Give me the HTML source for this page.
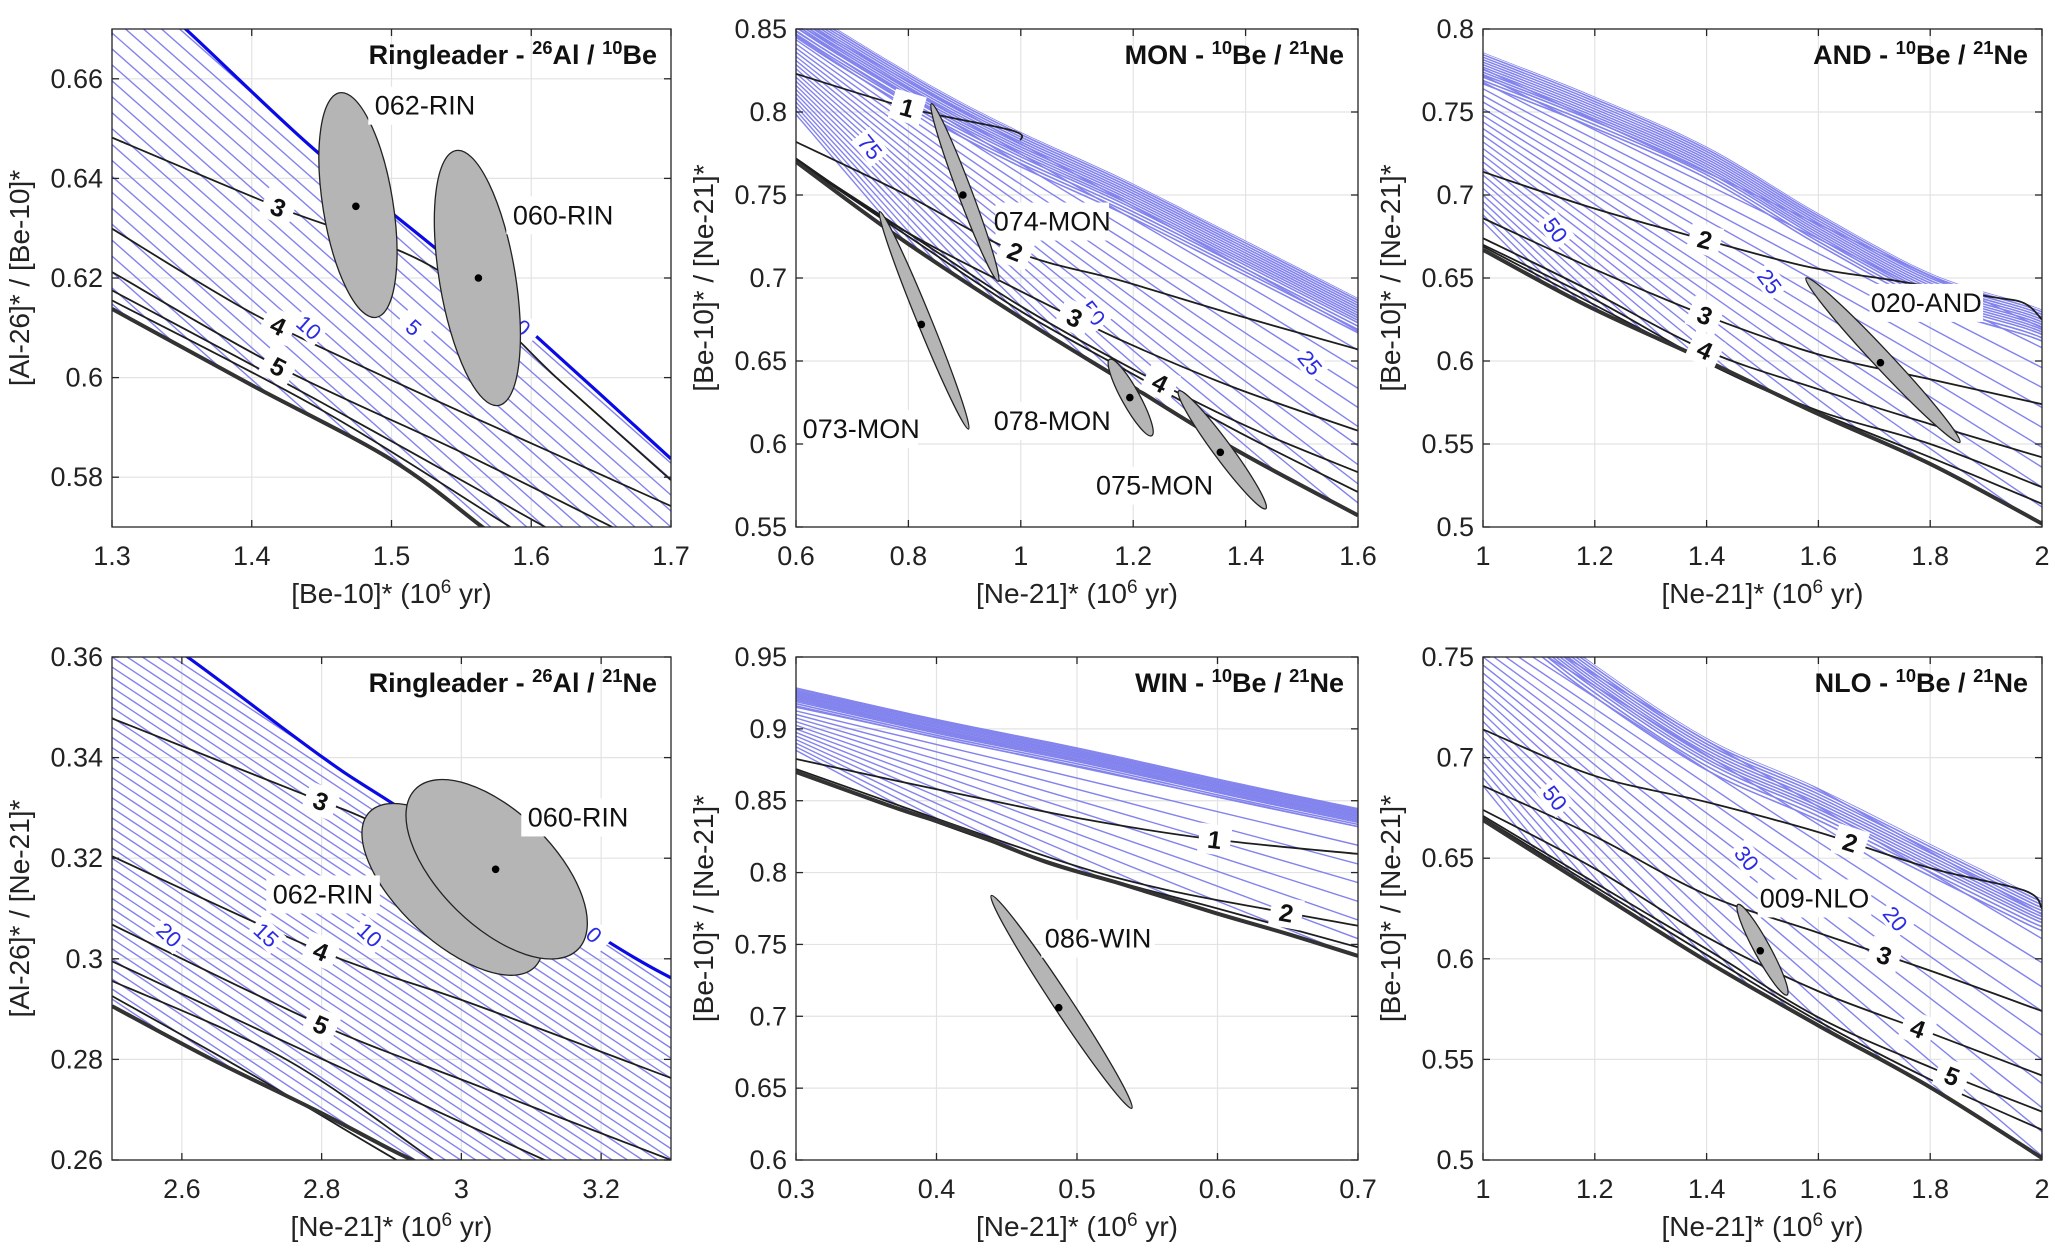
<!DOCTYPE html>
<html><head><meta charset="utf-8"><title>Cosmogenic nuclide ratio plots</title>
<style>
html,body{margin:0;padding:0;background:#fff;width:2067px;height:1260px;overflow:hidden;}
svg{display:block;font-family:"Liberation Sans",Arial,sans-serif;overflow:hidden;}
</style></head>
<body>
<svg id="fig" width="2067" height="1260" viewBox="0 0 2067 1260" xmlns="http://www.w3.org/2000/svg">
<rect x="0" y="0" width="2067" height="1260" fill="#fff"/>
<defs id="defs"></defs>
</svg>
<script>
// ---------- Panel 1: Ringleader 26Al/10Be ----------
const p1_xTicks=[1.3,1.4,1.5,1.6,1.7];
const p1_yTicks=[0.58,0.6,0.62,0.64,0.66];
const p1_bold=[[1.3,0.683],[1.353,0.6699],[1.444,0.646],[1.54,0.624],[1.604,0.6082],[1.7,0.5837]];
const p1_thick=[[1.3,0.6138],[1.4,0.5985],[1.5,0.5835],[1.565,0.570],[1.6,0.5625]];
const p1_c3=[[1.3,0.6482],[1.419,0.6342],[1.533,0.6216],[1.62,0.5995],[1.7,0.5794]];
const p1_c4=[[1.3,0.6299],[1.4,0.613],[1.5,0.5995],[1.6,0.5868],[1.7,0.5742]];
const p1_c5=[[1.3,0.6212],[1.419,0.6022],[1.55,0.585],[1.658,0.570],[1.7,0.5645]];
const p1_c6=[[1.3,0.6175],[1.45,0.595],[1.61,0.570],[1.65,0.564]];
const p1_c7=[[1.3,0.6155],[1.45,0.5935],[1.585,0.570],[1.62,0.564]];
const p1_diagL=[0.682,0.6788,0.6756,0.6724,0.6692,0.666,0.6628,0.6596,0.6564,0.6532,0.65,0.6468,0.6436,0.6404,0.6372,0.634,0.6308,0.6276,0.6244,0.6212,0.618,0.6148];
const p1_diagSlope=[0.248];
const p1_blueLabels=[['10',1.441,0.6101],['5',1.516,0.6101],['0',1.594,0.6101]];
const p1_sampleNames=['062-RIN','060-RIN'];
const p1_sampleCenters=[[1.4745,0.6344],[1.5622,0.62]];
const p1_sampleTipA=[[1.463,0.6572],[1.5463,0.6456]];
const p1_sampleTipB=[[1.489,0.6121],[1.5766,0.5944]];
const p1_sampleWidth=[35,38];
const p1_sampleLabelPos=[[1.524,0.6546],[1.6228,0.6326]];

// ---------- Panel 2: MON 10Be/21Ne ----------
const p2_xTicks=[0.6,0.8,1,1.2,1.4,1.6];
const p2_yTicks=[0.55,0.6,0.65,0.7,0.75,0.8,0.85];
const p2_env=[[0.6,0.866],[0.673,0.85],[0.851,0.814],[1.0,0.788],[1.181,0.760],[1.38,0.726],[1.6,0.688]];
const p2_thick=[[0.6,0.770],[0.785,0.724],[1.0,0.676],[1.182,0.638],[1.38,0.597],[1.6,0.557]];
const p2_c1=[[0.6,0.823],[0.805,0.802],[0.983,0.789],[1.0,0.783]];
const p2_c2=[[0.6,0.782],[0.785,0.752],[0.99,0.716],[1.182,0.698],[1.38,0.678],[1.6,0.657]];
const p2_c3=[[0.6,0.772],[0.785,0.730],[1.0,0.692],[1.182,0.662],[1.38,0.634],[1.6,0.608]];
const p2_c4=[[0.6,0.771],[0.8,0.727],[1.0,0.683],[1.2,0.645],[1.4,0.611],[1.6,0.583]];
const p2_c5=[[0.6,0.7705],[0.8,0.725],[1.0,0.68],[1.2,0.642],[1.4,0.605],[1.6,0.571]];
const p2_band=[0,0.0015,0.003,0.0045,0.006,0.0075,0.009,0.0105,0.012,0.0135,0.015,0.017,0.019,0.021];
const p2_diagL=[0.856,0.8535,0.851,0.8485,0.846,0.8435,0.841,0.8385,0.836,0.8335,0.831,0.8285,0.826,0.8235,0.821,0.8185,0.816,0.8135,0.811,0.8085,0.806,0.8035,0.801,0.7985];
const p2_diagR=[0.668,0.6565,0.645,0.6335,0.622,0.6105,0.599,0.5875,0.576,0.5645,0.553,0.5415,0.530,0.5185,0.507,0.4955,0.484,0.4725,0.461,0.4495,0.438,0.4265,0.415,0.4035];
const p2_blueLabels=[['75',0.732,0.779],['50',1.129,0.679],['25',1.515,0.649]];
const p2_sampleNames=['074-MON','073-MON','078-MON','075-MON'];
const p2_sampleCenters=[[0.897,0.750],[0.823,0.672],[1.194,0.628],[1.355,0.595]];
const p2_sampleTipA=[[0.841,0.805],[0.749,0.74],[1.158,0.651],[1.281,0.632]];
const p2_sampleTipB=[[0.96,0.698],[0.907,0.609],[1.233,0.605],[1.436,0.561]];
const p2_sampleWidth=[7,7,9,9];
const p2_sampleLabelPos=[[1.056,0.734],[0.716,0.609],[1.056,0.614],[1.238,0.575]];

// ---------- Panel 3: AND 10Be/21Ne ----------
const p3_xTicks=[1,1.2,1.4,1.6,1.8,2];
const p3_yTicks=[0.5,0.55,0.6,0.65,0.7,0.75,0.8];
const p3_env=[[1,0.786],[1.188,0.761],[1.401,0.729],[1.6,0.689],[1.8,0.653],[1.967,0.635],[2,0.631]];
const p3_thick=[[1,0.667],[1.188,0.633],[1.401,0.6],[1.6,0.568],[1.8,0.538],[2,0.502]];
const p3_c2=[[1,0.714],[1.188,0.693],[1.376,0.675],[1.578,0.657],[1.727,0.649],[1.902,0.639],[1.967,0.635],[2,0.625]];
const p3_c3=[[1,0.686],[1.188,0.657],[1.401,0.627],[1.6,0.604],[1.8,0.589],[2,0.574]];
const p3_c4=[[1,0.674],[1.188,0.643],[1.401,0.606],[1.6,0.583],[1.8,0.562],[2,0.542]];
const p3_c5=[[1,0.670],[1.2,0.637],[1.409,0.598],[1.6,0.57],[1.8,0.55],[2,0.524]];
const p3_c6=[[1,0.669],[1.4,0.599],[1.6,0.569],[1.8,0.542],[2,0.514]];
const p3_band=[0,0.0015,0.003,0.0045,0.006,0.0075,0.009,0.0105,0.012,0.0135,0.015,0.017,0.019];
const p3_diagL=[0.776,0.772,0.768,0.764,0.76,0.756,0.752,0.748,0.744,0.74,0.736,0.732,0.728,0.724,0.72,0.716,0.712,0.708,0.704,0.70,0.696,0.692,0.688,0.684];
const p3_diagR=[0.62,0.608,0.596,0.584,0.572,0.56,0.548,0.536,0.524,0.512,0.50,0.488,0.476,0.464,0.452,0.44,0.428,0.416,0.404,0.392,0.38,0.368,0.356,0.344];
const p3_blueLabels=[['50',1.13,0.679],['25',1.513,0.648]];
const p3_sampleNames=['020-AND'];
const p3_sampleCenters=[[1.711,0.599]];
const p3_sampleTipA=[[1.578,0.650]];
const p3_sampleTipB=[[1.853,0.551]];
const p3_sampleWidth=[9];
const p3_sampleLabelPos=[[1.793,0.635]];

// ---------- Panel 4: Ringleader 26Al/21Ne ----------
const p4_xTicks=[2.6,2.8,3,3.2];
const p4_yTicks=[0.26,0.28,0.3,0.32,0.34,0.36];
const p4_bold=[[2.5,0.37],[2.608,0.36],[2.802,0.34],[2.907,0.3304],[3.209,0.3035],[3.3,0.2962]];
const p4_thick=[[2.5,0.2906],[2.643,0.28],[2.79,0.27],[2.9,0.262],[2.93,0.26],[2.97,0.257]];
const p4_c3=[[2.5,0.3478],[2.78,0.3324],[2.854,0.3284],[3.0,0.319]];
const p4_c4=[[2.5,0.3204],[2.799,0.3015],[3.013,0.2912],[3.3,0.2763]];
const p4_c5=[[2.5,0.3068],[2.799,0.2869],[3.013,0.2753],[3.3,0.26]];
const p4_c6=[[2.5,0.2995],[2.802,0.28],[3.119,0.26],[3.16,0.257]];
const p4_c7=[[2.5,0.2956],[2.749,0.28],[2.96,0.26],[3.0,0.257]];
const p4_c8=[[2.5,0.2926],[2.7,0.277],[2.907,0.26],[2.95,0.257]];
const p4_diagL=[0.370,0.368,0.366,0.364,0.362,0.360,0.358,0.356,0.354,0.352,0.350,0.348,0.346,0.344,0.342,0.340,0.338,0.336,0.334,0.332,0.330,0.328,0.326,0.324,0.322,0.320,0.318,0.316,0.314,0.312,0.310,0.308,0.306,0.304,0.302,0.300,0.298,0.296,0.294,0.292,0.290];
const p4_diagSlope=[0.0922];
const p4_blueLabels=[['20',2.582,0.3048],['15',2.721,0.3048],['10',2.869,0.3048],['0',3.19,0.3048]];
const p4_sampleNames=['062-RIN','060-RIN'];
const p4_sampleCenters=[[2.986,0.3133],[3.049,0.3178]];
const p4_sampleTipA=[[2.868,0.3291],[2.934,0.3337]];
const p4_sampleTipB=[[3.106,0.2985],[3.167,0.3019]];
const p4_sampleWidth=[52,57];
const p4_sampleLabelPos=[[2.802,0.3128],[3.167,0.3281]];

// ---------- Panel 5: WIN 10Be/21Ne ----------
const p5_xTicks=[0.3,0.4,0.5,0.6,0.7];
const p5_yTicks=[0.6,0.65,0.7,0.75,0.8,0.85,0.9,0.95];
const p5_env=[[0.3,0.929],[0.4,0.907],[0.506,0.886],[0.612,0.863],[0.7,0.845]];
const p5_thick=[[0.3,0.870],[0.334,0.858],[0.374,0.844],[0.421,0.829],[0.479,0.807],[0.532,0.792],[0.598,0.772],[0.651,0.757],[0.7,0.742]];
const p5_c1=[[0.3,0.879],[0.4,0.858],[0.506,0.837],[0.598,0.823],[0.7,0.813]];
const p5_c2=[[0.3,0.872],[0.479,0.811],[0.559,0.789],[0.638,0.774],[0.7,0.763]];
const p5_c3=[[0.3,0.8705],[0.479,0.808],[0.6,0.775],[0.7,0.748]];
const p5_band=[0,0.001,0.002,0.003,0.004,0.005,0.006,0.007,0.008,0.009,0.010,0.0115,0.013];
const p5_diagL=[0.915,0.9125,0.91,0.9075,0.905,0.9025,0.90,0.8975,0.895,0.8925,0.89,0.8875,0.885];
const p5_diagR=[0.832,0.819,0.806,0.793,0.78,0.767,0.754,0.741,0.728,0.715,0.702,0.689,0.676];
const p5_blueLabels=[];
const p5_sampleNames=['086-WIN'];
const p5_sampleCenters=[[0.487,0.706]];
const p5_sampleTipA=[[0.439,0.784]];
const p5_sampleTipB=[[0.539,0.636]];
const p5_sampleWidth=[9];
const p5_sampleLabelPos=[[0.515,0.754]];

// ---------- Panel 6: NLO 10Be/21Ne ----------
const p6_xTicks=[1,1.2,1.4,1.6,1.8,2];
const p6_yTicks=[0.5,0.55,0.6,0.65,0.7,0.75];
const p6_env=[[1,0.79],[1.181,0.75],[1.399,0.71],[1.599,0.685],[1.801,0.657],[1.968,0.634],[2,0.63]];
const p6_thick=[[1,0.669],[1.199,0.634],[1.399,0.599],[1.599,0.567],[1.801,0.536],[2,0.501]];
const p6_c2=[[1,0.714],[1.199,0.691],[1.399,0.678],[1.599,0.663],[1.801,0.645],[1.968,0.634],[2,0.625]];
const p6_c3=[[1,0.686],[1.199,0.661],[1.399,0.632],[1.599,0.613],[1.801,0.594],[2,0.574]];
const p6_c4=[[1,0.674],[1.199,0.645],[1.399,0.611],[1.599,0.584],[1.801,0.563],[2,0.542]];
const p6_c5=[[1,0.671],[1.199,0.638],[1.399,0.605],[1.599,0.571],[1.801,0.546],[2,0.524]];
const p6_c6=[[1,0.670],[1.4,0.602],[1.6,0.569],[1.8,0.540],[2,0.515]];
const p6_band=[0,0.0015,0.003,0.0045,0.006,0.0075,0.009,0.0105,0.012,0.014,0.016];
const p6_diagL=[0.778,0.774,0.770,0.766,0.762,0.758,0.754,0.750,0.746,0.742,0.738,0.734,0.730,0.726,0.722,0.718,0.714,0.710,0.706,0.702,0.698,0.694,0.690,0.686];
const p6_diagR=[0.622,0.610,0.598,0.586,0.574,0.562,0.550,0.538,0.526,0.514,0.502,0.490,0.478,0.466,0.454,0.442,0.430,0.418,0.406,0.394,0.382,0.370,0.358,0.346];
const p6_blueLabels=[['50',1.129,0.68],['30',1.472,0.65],['20',1.738,0.62]];
const p6_sampleNames=['009-NLO'];
const p6_sampleCenters=[[1.496,0.604]];
const p6_sampleTipA=[[1.456,0.627]];
const p6_sampleTipB=[[1.544,0.582]];
const p6_sampleWidth=[8];
const p6_sampleLabelPos=[[1.593,0.63]];

const NS='http://www.w3.org/2000/svg';
const svg=document.getElementById('fig');
const defs=document.getElementById('defs');

function mk(tag,attrs,parent){const e=document.createElementNS(NS,tag);for(const k in attrs)e.setAttribute(k,attrs[k]);parent.appendChild(e);return e;}
function fmt(v){return String(+v.toFixed(2));}
function smoothD(pts,withM){
  let d=withM?('M'+pts[0][0].toFixed(1)+','+pts[0][1].toFixed(1)):'';
  if(pts.length===2){return d+' L'+pts[1][0].toFixed(1)+','+pts[1][1].toFixed(1);}
  for(let i=0;i<pts.length-1;i++){
    const p0=pts[i-1]||pts[i],p1=pts[i],p2=pts[i+1],p3=pts[i+2]||pts[i+1];
    const c1=[p1[0]+(p2[0]-p0[0])/6,p1[1]+(p2[1]-p0[1])/6];
    const c2=[p2[0]-(p3[0]-p1[0])/6,p2[1]-(p3[1]-p1[1])/6];
    d+=' C'+c1[0].toFixed(1)+','+c1[1].toFixed(1)+' '+c2[0].toFixed(1)+','+c2[1].toFixed(1)+' '+p2[0].toFixed(1)+','+p2[1].toFixed(1);
  }
  return d;
}
function interpY(pts,x){
  for(let i=0;i<pts.length-1;i++){if(x>=pts[i][0]&&x<=pts[i+1][0]){const t=(x-pts[i][0])/(pts[i+1][0]-pts[i][0]);return pts[i][1]+t*(pts[i+1][1]-pts[i][1]);}}
  return pts[pts.length-1][1];
}
function richText(parent,segs,attrs){
  const t=mk('text',attrs,parent);
  let sup=false;
  segs.forEach(s=>{
    const ts=mk('tspan',{},t);
    if(s[1]&&!sup){ts.setAttribute('dy','-10');ts.setAttribute('font-size','0.68em');sup=true;}
    else if(!s[1]&&sup){ts.setAttribute('dy','10');sup=false;}
    else if(s[1]){ts.setAttribute('font-size','0.68em');}
    ts.textContent=s[0];
  });
  return t;
}

const panels=[
 {id:'p1',L:112,R:671,T:29,B:527,xd:[1.3,1.7],yd:[0.57,0.67],xTicks:p1_xTicks,yTicks:p1_yTicks,
  top:p1_bold,bold:p1_bold,thick:p1_thick,band:[],diagL:p1_diagL,diagSlope:p1_diagSlope[0],
  curves:[[p1_c3,'3',1.419],[p1_c4,'4',1.419],[p1_c5,'5',1.419],[p1_c6,null],[p1_c7,null]],
  blue:p1_blueLabels,blueSlope:0.248,names:p1_sampleNames,centers:p1_sampleCenters,tipA:p1_sampleTipA,tipB:p1_sampleTipB,widths:p1_sampleWidth,labPos:p1_sampleLabelPos,
  title:[['Ringleader - ',0],['26',1],['Al / ',0],['10',1],['Be',0]],
  ytitle:'[Al-26]* / [Be-10]*',xtitle:'Be-10'},
 {id:'p2',L:796,R:1358,T:29,B:527,xd:[0.6,1.6],yd:[0.55,0.85],xTicks:p2_xTicks,yTicks:p2_yTicks,
  top:p2_env,bold:null,thick:p2_thick,band:p2_band,diagL:p2_diagL,diagR:p2_diagR,
  curves:[[p2_c1,'1',0.798],[p2_c2,'2',0.99],[p2_c3,'3',1.096],[p2_c4,'4',1.248],[p2_c5,null]],
  blue:p2_blueLabels,blueSlope:0.42,names:p2_sampleNames,centers:p2_sampleCenters,tipA:p2_sampleTipA,tipB:p2_sampleTipB,widths:p2_sampleWidth,labPos:p2_sampleLabelPos,
  title:[['MON - ',0],['10',1],['Be / ',0],['21',1],['Ne',0]],
  ytitle:'[Be-10]* / [Ne-21]*',xtitle:'Ne-21'},
 {id:'p3',L:1483,R:2042,T:29,B:527,xd:[1,2],yd:[0.5,0.8],xTicks:p3_xTicks,yTicks:p3_yTicks,
  top:p3_env,bold:null,thick:p3_thick,band:p3_band,diagL:p3_diagL,diagR:p3_diagR,
  curves:[[p3_c2,'2',1.397],[p3_c3,'3',1.397],[p3_c4,'4',1.397],[p3_c5,null],[p3_c6,null]],
  blue:p3_blueLabels,blueSlope:0.45,names:p3_sampleNames,centers:p3_sampleCenters,tipA:p3_sampleTipA,tipB:p3_sampleTipB,widths:p3_sampleWidth,labPos:p3_sampleLabelPos,
  title:[['AND - ',0],['10',1],['Be / ',0],['21',1],['Ne',0]],
  ytitle:'[Be-10]* / [Ne-21]*',xtitle:'Ne-21'},
 {id:'p4',L:112,R:671,T:657,B:1160,xd:[2.5,3.3],yd:[0.26,0.36],xTicks:p4_xTicks,yTicks:p4_yTicks,
  top:p4_bold,bold:p4_bold,thick:p4_thick,band:[],diagL:p4_diagL,diagSlope:p4_diagSlope[0],
  curves:[[p4_c3,'3',2.799],[p4_c4,'4',2.799],[p4_c5,'5',2.799],[p4_c6,null],[p4_c7,null],[p4_c8,null]],
  blue:p4_blueLabels,blueSlope:0.13,names:p4_sampleNames,centers:p4_sampleCenters,tipA:p4_sampleTipA,tipB:p4_sampleTipB,widths:p4_sampleWidth,labPos:p4_sampleLabelPos,
  title:[['Ringleader - ',0],['26',1],['Al / ',0],['21',1],['Ne',0]],
  ytitle:'[Al-26]* / [Ne-21]*',xtitle:'Ne-21'},
 {id:'p5',L:796,R:1358,T:657,B:1160,xd:[0.3,0.7],yd:[0.6,0.95],xTicks:p5_xTicks,yTicks:p5_yTicks,
  top:p5_env,bold:null,thick:p5_thick,band:p5_band,diagL:p5_diagL,diagR:p5_diagR,
  curves:[[p5_c1,'1',0.598],[p5_c2,'2',0.649],[p5_c3,null]],
  blue:p5_blueLabels,blueSlope:0.5,names:p5_sampleNames,centers:p5_sampleCenters,tipA:p5_sampleTipA,tipB:p5_sampleTipB,widths:p5_sampleWidth,labPos:p5_sampleLabelPos,
  title:[['WIN - ',0],['10',1],['Be / ',0],['21',1],['Ne',0]],
  ytitle:'[Be-10]* / [Ne-21]*',xtitle:'Ne-21'},
 {id:'p6',L:1483,R:2042,T:657,B:1160,xd:[1,2],yd:[0.5,0.75],xTicks:p6_xTicks,yTicks:p6_yTicks,
  top:p6_env,bold:null,thick:p6_thick,band:p6_band,diagL:p6_diagL,diagR:p6_diagR,
  curves:[[p6_c2,'2',1.657],[p6_c3,'3',1.718],[p6_c4,'4',1.778],[p6_c5,'5',1.839],[p6_c6,null]],
  blue:p6_blueLabels,blueSlope:0.35,names:p6_sampleNames,centers:p6_sampleCenters,tipA:p6_sampleTipA,tipB:p6_sampleTipB,widths:p6_sampleWidth,labPos:p6_sampleLabelPos,
  title:[['NLO - ',0],['10',1],['Be / ',0],['21',1],['Ne',0]],
  ytitle:'[Be-10]* / [Ne-21]*',xtitle:'Ne-21'}
];

const BLUE='#8383ee';
panels.forEach((p,pi)=>{
  const sx=x=>p.L+(x-p.xd[0])/(p.xd[1]-p.xd[0])*(p.R-p.L);
  const sy=y=>p.B-(y-p.yd[0])/(p.yd[1]-p.yd[0])*(p.B-p.T);
  const px=pts=>pts.map(q=>[sx(q[0]),sy(q[1])]);
  const g=mk('g',{},svg);
  
  

  const grid=mk('g',{stroke:'#e3e3e3','stroke-width':1.2},g);
  
  
  p.xTicks.forEach(v=>{mk('line',{x1:sx(v),x2:sx(v),y1:p.T,y2:p.B},grid);});
  p.yTicks.forEach(v=>{mk('line',{x1:p.L,x2:p.R,y1:sy(v),y2:sy(v)},grid);});

  const xr=p.xd[1]-p.xd[0],yr=p.yd[1]-p.yd[0];
  const cr=mk('clipPath',{id:'cr'+pi},defs);
  mk('rect',{x:p.L,y:p.T,width:p.R-p.L,height:p.B-p.T},cr);
  const cg=mk('clipPath',{id:'cg'+pi},defs);
  const topPx=px(p.top);
  const botPx=px(p.thick).reverse();
  const tl=topPx[topPx.length-1];
  let d=smoothD(topPx,true)+' L'+(p.R+10)+','+tl[1].toFixed(1)+' L'+(p.R+10)+','+(p.B+3)+' L'+botPx[0][0].toFixed(1)+','+Math.min(botPx[0][1],p.B+3).toFixed(1);
  d+=smoothD(botPx,false);
  d+=' L'+(p.L-10)+','+botPx[botPx.length-1][1].toFixed(1)+' L'+(p.L-10)+','+Math.max(0,Math.min(topPx[0][1],p.T)).toFixed(1)+' Z';
  mk('path',{d:d},cg);

  const gr=mk('g',{'clip-path':'url(#cr'+pi+')'},g);
  const gb=mk('g',{'clip-path':'url(#cg'+pi+')'},gr);
  
  
  p.band.forEach(o=>{
    const pts=px(p.top.map(q=>[q[0],q[1]-o]));
    const e=mk('path',{d:smoothD(pts,true),fill:'none',stroke:BLUE,'stroke-width':1.6},gb);
    
    
  });
  p.diagL.forEach((yl,k)=>{
    let x2=p.xd[1];
    let y2=p.diagR?p.diagR[k]:yl-p.diagSlope*xr;
    if(y2<p.yd[0]){x2=p.xd[0]+(yl-p.yd[0])/(yl-y2)*xr;y2=p.yd[0];}
    const e=mk('line',{x1:sx(p.xd[0]),y1:sy(yl),x2:sx(x2),y2:sy(y2),stroke:BLUE,'stroke-width':1.4},gb);
    
    
  });
  if(p.bold){
    const e=mk('path',{d:smoothD(px(p.bold),true),fill:'none',stroke:'#0a0ae6','stroke-width':3.2},gr);
    
    
  }
  p.curves.forEach(c=>{
    const e=mk('path',{d:smoothD(px(c[0]),true),fill:'none',stroke:'#1e1e1e','stroke-width':1.8},gr);
    
    
  });
  const th=mk('path',{d:smoothD(px(p.thick),true),fill:'none',stroke:'#333','stroke-width':4},gr);
  
  

  const bang=Math.atan(p.blueSlope*((p.B-p.T)/yr)/((p.R-p.L)/xr))*180/Math.PI;
  p.blue.forEach(b=>{
    const X=sx(b[1]),Y=sy(b[2]);
    const gg=mk('g',{transform:'translate('+X+','+Y+') rotate('+bang+')'},gr);
    mk('rect',{x:-16,y:-12,width:32,height:24,fill:'#fff'},gg);
    const t=mk('text',{x:0,y:8,'text-anchor':'middle','font-size':22,fill:'#2b2be6'},gg);
    t.textContent=b[0];
    
    
  });
  p.curves.forEach(c=>{
    if(!c[1])return;
    const x0=c[2],y0=interpY(c[0],x0);
    const ya=interpY(c[0],x0-0.01*xr),yb=interpY(c[0],x0+0.01*xr);
    const ang=Math.atan2(sy(yb)-sy(ya),sx(x0+0.01*xr)-sx(x0-0.01*xr))*180/Math.PI;
    const gg=mk('g',{transform:'translate('+sx(x0)+','+sy(y0)+') rotate('+ang+')'},gr);
    mk('rect',{x:-16,y:-15,width:32,height:30,fill:'#fff'},gg);
    const t=mk('text',{x:0,y:9,'text-anchor':'middle','font-size':25,'font-weight':'bold',fill:'#111'},gg);
    t.textContent=c[1];
    
    
  });

  p.names.forEach((n,i)=>{
    const A=[sx(p.tipA[i][0]),sy(p.tipA[i][1])],Bp=[sx(p.tipB[i][0]),sy(p.tipB[i][1])];
    const cx=(A[0]+Bp[0])/2,cy=(A[1]+Bp[1])/2;
    const a=Math.hypot(Bp[0]-A[0],Bp[1]-A[1])/2;
    const ang=Math.atan2(Bp[1]-A[1],Bp[0]-A[0])*180/Math.PI;
    const el=mk('ellipse',{cx:cx,cy:cy,rx:a,ry:p.widths[i],transform:'rotate('+ang+' '+cx+' '+cy+')',fill:'#b5b5b5',stroke:'#222','stroke-width':1.3},gr);
    
    
    const dot=mk('circle',{cx:sx(p.centers[i][0]),cy:sy(p.centers[i][1]),r:3.8,fill:'#000'},gr);
    
    
  });
  p.names.forEach((n,i)=>{
    const X=sx(p.labPos[i][0]),Y=sy(p.labPos[i][1]);
    const w=n.length*14.8+10;
    mk('rect',{x:X-w/2,y:Y-19,width:w,height:38,fill:'#fff'},gr);
    const t=mk('text',{x:X,y:Y+9,'text-anchor':'middle','font-size':27,fill:'#111'},gr);
    t.textContent=n;
    
    
  });

  const tt=richText(g,p.title,{x:p.R-14,y:p.T+35,'text-anchor':'end','font-size':27,'font-weight':'bold',fill:'#111'});
  
  

  const ax=mk('rect',{x:p.L,y:p.T,width:p.R-p.L,height:p.B-p.T,fill:'none',stroke:'#262626','stroke-width':1.3},g);
  
  
  const tk=mk('g',{stroke:'#262626','stroke-width':1.3},g);
  
  
  p.xTicks.forEach(v=>{mk('line',{x1:sx(v),x2:sx(v),y1:p.B,y2:p.B-7},tk);mk('line',{x1:sx(v),x2:sx(v),y1:p.T,y2:p.T+7},tk);});
  p.yTicks.forEach(v=>{mk('line',{x1:p.L,x2:p.L+7,y1:sy(v),y2:sy(v)},tk);mk('line',{x1:p.R,x2:p.R-7,y1:sy(v),y2:sy(v)},tk);});
  p.xTicks.forEach(v=>{
    const t=mk('text',{x:sx(v),y:p.B+38,'text-anchor':'middle','font-size':27,fill:'#222'},g);
    t.textContent=fmt(v);
    
    
  });
  p.yTicks.forEach(v=>{
    const t=mk('text',{x:p.L-9,y:sy(v)+9,'text-anchor':'end','font-size':27,fill:'#222'},g);
    t.textContent=fmt(v);
    
    
  });
  const xt=richText(g,[['['+p.xtitle+']* (10',0],['6',1],[' yr)',0]],{x:(p.L+p.R)/2,y:p.B+76,'text-anchor':'middle','font-size':28,fill:'#222'});
  
  
  const yc=(p.T+p.B)/2,yx=p.L-83;
  const yt=mk('text',{x:yx,y:yc,'text-anchor':'middle','font-size':28,fill:'#222',transform:'rotate(-90 '+yx+' '+yc+')'},g);
  yt.textContent=p.ytitle;
  
  
});
</script>
</body></html>
